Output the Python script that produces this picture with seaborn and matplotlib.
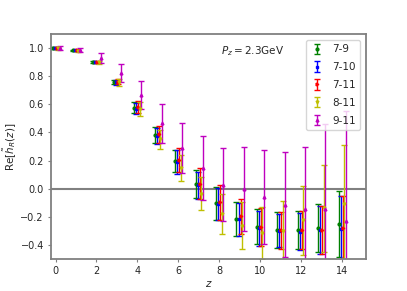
import numpy as np
import matplotlib
matplotlib.use("Agg")
import matplotlib.pyplot as plt
import seaborn as sns

# z values and ratio labels
z = np.arange(15)
labels = ['7-9', '7-10', '7-11', '8-11', '9-11']

# Re[h_R(z)] for each ratio, with errors
re_79 = [1.0, 0.985, 0.90, 0.76, 0.577, 0.38, 0.198, 0.035, -0.105, -0.214, -0.27, -0.294, -0.293, -0.281, -0.252]
err_79 = [0.005, 0.005, 0.007, 0.015, 0.04, 0.056, 0.08, 0.1, 0.115, 0.122, 0.125, 0.125, 0.137, 0.17, 0.235]

re_710 = [1.0, 0.985, 0.90, 0.758, 0.57, 0.374, 0.19, 0.024, -0.11, -0.218, -0.282, -0.30, -0.305, -0.293, -0.286]
err_710 = [0.005, 0.005, 0.008, 0.017, 0.04, 0.055, 0.085, 0.095, 0.115, 0.118, 0.125, 0.118, 0.132, 0.17, 0.235]

re_711 = [1.0, 0.985, 0.90, 0.762, 0.58, 0.386, 0.205, 0.035, -0.098, -0.196, -0.27, -0.297, -0.293, -0.295, -0.28]
err_711 = [0.006, 0.006, 0.008, 0.02, 0.045, 0.062, 0.085, 0.11, 0.122, 0.125, 0.135, 0.13, 0.136, 0.17, 0.225]

re_811 = [0.998, 0.98, 0.898, 0.758, 0.565, 0.35, 0.148, -0.035, -0.18, -0.262, -0.317, -0.3, -0.226, -0.138, -0.107]
err_811 = [0.008, 0.008, 0.01, 0.025, 0.05, 0.068, 0.09, 0.115, 0.14, 0.167, 0.186, 0.21, 0.247, 0.31, 0.42]

re_911 = [0.998, 0.985, 0.93, 0.825, 0.665, 0.465, 0.29, 0.148, 0.029, -0.002, -0.06, -0.114, -0.145, -0.143, -0.229]
err_911 = [0.015, 0.015, 0.035, 0.065, 0.1, 0.14, 0.18, 0.225, 0.26, 0.3, 0.334, 0.375, 0.443, 0.6, 0.78]

values = [re_79, re_710, re_711, re_811, re_911]
errors = [err_79, err_710, err_711, err_811, err_911]
offsets = [-0.15, -0.05, 0.05, 0.12, 0.2]
colors = ['g', 'b', 'r', 'y', 'm']
markers = ['o', 's', '>', 'v', '^']

sns.set_style('ticks')
plt.rcParams['font.family'] = ['DejaVu Sans']

fig, ax = plt.subplots(figsize=(4.07, 2.91), dpi=100)

ax.axhline(0, color='gray', lw=1.5, zorder=0)

for lab, val, err, off, col, mk in zip(labels, values, errors, offsets, colors, markers):
    ax.errorbar(z + off, val, yerr=err, fmt=mk, color=col, ms=2,
                capsize=2.5, elinewidth=1, capthick=1, label=lab)

ax.set_xlim(-0.23, 15.2)
ax.set_ylim(-0.5, 1.1)
ax.set_xticks([0, 2, 4, 6, 8, 10, 12, 14])
ax.set_yticks([-0.4, -0.2, 0.0, 0.2, 0.4, 0.6, 0.8, 1.0])
ax.tick_params(labelsize=7, length=2.5, width=0.8, color='gray', pad=2.5)

for sp in ax.spines.values():
    sp.set_color('gray')
    sp.set_linewidth(1.3)

ax.set_xlabel(r'$z$', fontsize=7.5, labelpad=2)
ax.set_ylabel(r'Re$[\tilde{h}_R(z)]$', fontsize=7.5, labelpad=2)
ax.text(0.54, 0.955, r'$P_z=2.3$GeV', transform=ax.transAxes, fontsize=7.5, va='top')

ax.legend(loc='upper right', fontsize=7.5, handlelength=1.3, labelspacing=0.75,
          borderaxespad=0.6, frameon=True)

fig.subplots_adjust(left=0.125, right=0.9, bottom=0.11, top=0.883)
fig.savefig('out.png', dpi=100)
